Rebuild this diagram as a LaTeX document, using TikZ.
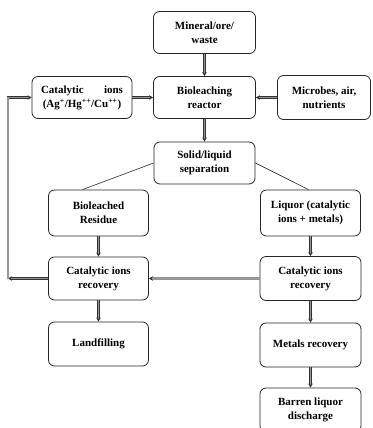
\documentclass[tikz,border=0pt]{standalone}
\usepackage{fontspec}
\setmainfont{Liberation Serif}
\usetikzlibrary{arrows.meta, positioning, calc}
\definecolor{cPipe}{RGB}{150,150,150}

\tikzset{
  box/.style={draw=black!85, line width=0.8pt, rounded corners=6pt, align=center,
    font=\fontsize{11}{14}\selectfont\bfseries, inner sep=2pt,
    minimum width=100pt, minimum height=43pt},
  flow/.style={draw=black!80, line width=0.55pt, double=cPipe, double distance=1.7pt,
    -{Stealth[length=4pt, width=4.5pt]}},
  wideflow/.style={flow, double distance=2.8pt},
  link/.style={draw=black!85, line width=0.6pt},
}

\begin{document}
\begin{tikzpicture}[x=1pt, y=-1pt]
        \useasboundingbox (0,0) rectangle (372,428);
        % top row
        \node[box, minimum width=102pt, minimum height=42pt] (mineral) at (204.5,32.5) {Mineral/ore/\\waste};
        \node[box, minimum width=102pt, minimum height=42pt] (reactor) at (204.5,97.5) {Bioleaching\\reactor};
        \node[box, minimum height=42pt] (ions) at (82,97.5)
          {\makebox[82pt]{Catalytic\hfill ions}\\(Ag\textsuperscript{+}/Hg\textsuperscript{++}/Cu\textsuperscript{++})};
        \node[box, minimum width=93pt, minimum height=44pt] (microbes) at (324,97.5) {Microbes, air,\\nutrients};
        \node[box, minimum width=101pt, minimum height=42pt] (sep) at (204.5,163) {Solid/liquid\\separation};
        % left branch
        \node[box, minimum height=46pt] (residue) at (98.5,213) {Bioleached\\Residue};
        \node[box] (recL) at (98.5,278.5) {Catalytic ions\\recovery};
        \node[box, minimum height=44pt] (landfill) at (98.5,344) {Landfilling};
        % right branch
        \node[box, minimum height=46pt] (liquor) at (310.5,213) {Liquor (catalytic\\ions + metals)};
        \node[box, minimum width=101pt, minimum height=44pt] (recR) at (310.5,278.5) {Catalytic ions\\recovery};
        \node[box, minimum width=101pt, minimum height=44pt] (metals) at (310.5,345) {Metals recovery};
        \node[box, minimum width=101pt, minimum height=44pt] (barren) at (310.5,410) {Barren liquor\\discharge};
        \coordinate (turn) at (8,278.5);

        \draw[flow] (mineral) -- (reactor);
        \draw[flow] (ions) -- (reactor);
        \draw[flow] (microbes) -- (reactor);
        \draw[flow] (reactor) -- (sep);
        \draw[link] (sep.west) -- ($(residue.north)+(-16,0)$);
        \draw[link] (sep.east) -- ($(liquor.north)+(-2,0)$);
        \draw[flow] (residue) -- (recL);
        \draw[flow] (liquor) -- (recR);
        \draw[wideflow] (recR) -- (recL);
        \draw[flow] (recL) -- (turn);
        \draw[flow] (turn) |- (ions);
        \draw[flow] (recL) -- (landfill);
        \draw[flow] (recR) -- (metals);
        \draw[flow] (metals) -- (barren);
      \end{tikzpicture}
\end{document}
